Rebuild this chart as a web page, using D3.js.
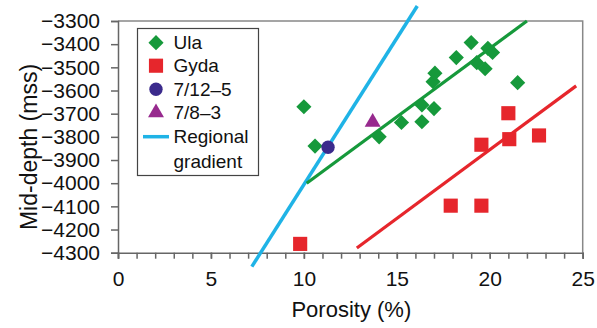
<!DOCTYPE html>
<html>
<head>
<meta charset="utf-8">
<script src="https://cdn.jsdelivr.net/npm/d3@7"></script>
<style>
  html, body { margin: 0; padding: 0; background: #fff; }
  svg { display: block; font-family: "Liberation Sans", Arial, Helvetica, sans-serif; }
</style>
</head>
<body>
<svg id="chart" width="597" height="328"></svg>
<script>
// ---------- data ----------
const ulaPorosity = [10.0, 10.6, 14.05, 15.25, 16.35, 16.35, 17.0, 16.95, 17.05, 18.2, 19.0, 19.3, 19.75, 19.9, 20.15, 21.5];
const ulaDepth    = [-3670, -3840, -3800, -3738, -3735, -3662, -3678, -3562, -3525, -3458, -3393, -3480, -3506, -3418, -3436, -3566];

const gydaPorosity = [9.8, 17.9, 19.55, 19.55, 21.0, 21.05, 22.65];
const gydaDepth    = [-4262, -4097, -4097, -3834, -3698, -3810, -3794];

const well7125Porosity = [11.3];
const well7125Depth    = [-3845];

const well783Porosity = [13.7];
const well783Depth    = [-3737];

const ulaTrendPorosity = [10.15, 22.0];
const ulaTrendDepth    = [-4000, -3300];
const gydaTrendPorosity = [12.85, 24.65];
const gydaTrendDepth    = [-4280, -3580];
const regionalPorosity = [7.2, 16.1];
const regionalDepth    = [-4360, -3235];

const xTickLabels = [0, 5, 10, 15, 20, 25];
const yTickLabels = [-3300, -3400, -3500, -3600, -3700, -3800, -3900, -4000, -4100, -4200, -4300];
const legendLabels = ["Ula", "Gyda", "7/12\u20135", "7/8\u20133", "Regional"];

// ---------- layout ----------
const svg = d3.select("#chart");
const pLeft = 118, pRight = 582.7, pTop = 21, pBottom = 252.7;
const x = d3.scaleLinear().domain([0, 25]).range([pLeft, pRight]);
const y = d3.scaleLinear().domain([-4300, -3300]).range([pBottom, pTop]);

const cGreen = "#16993b", cRed = "#e6262c", cIndigo = "#3b2a8c", cPurple = "#972a8e", cBlue = "#1fb3e6";
const axisColor = "#666";

// frame (top & right)
svg.append("path")
  .attr("d", `M${pLeft},${pTop}H${pRight}V${pBottom}`)
  .attr("fill", "none").attr("stroke", "#888").attr("stroke-width", 1.5);

// x axis minor ticks
const xMinor = svg.append("g").attr("transform", `translate(0,${pBottom})`)
  .call(d3.axisBottom(x).tickValues(d3.range(0, 26)).tickSize(6).tickFormat(""));
xMinor.selectAll("path, line").attr("stroke", axisColor).attr("stroke-width", 1.5);
// x axis labels
const xAx = svg.append("g").attr("transform", `translate(0,${pBottom})`)
  .call(d3.axisBottom(x).tickValues(xTickLabels).tickSize(6).tickPadding(12).tickFormat(d3.format("d")));
xAx.select(".domain").remove();
xAx.selectAll("line").attr("stroke", axisColor).attr("stroke-width", 1.5);
xAx.selectAll("text").attr("font-size", 21).attr("fill", "#111").attr("font-family", null);

// y axis
const yAx = svg.append("g").attr("transform", `translate(${pLeft},0)`)
  .call(d3.axisLeft(y).tickValues(yTickLabels).tickSize(7).tickPadding(11).tickFormat(d3.format("d")));
yAx.selectAll("path, line").attr("stroke", axisColor).attr("stroke-width", 1.5);
yAx.selectAll("text").attr("font-size", 21).attr("fill", "#111").attr("font-family", null);

// axis titles
svg.append("text").attr("x", (pLeft + pRight) / 2 + 1).attr("y", 317)
  .attr("text-anchor", "middle").attr("font-size", 22).attr("fill", "#111").text("Porosity (%)");
svg.append("text").attr("transform", `translate(37,${(57 + 237) / 2}) rotate(-90)`)
  .attr("text-anchor", "middle").attr("font-size", 23).attr("fill", "#111").text("Mid-depth (mss)");

// lines
const line = d3.line().x(d => x(d[0])).y(d => y(d[1]));
function drawLine(px, py, color, w) {
  svg.append("path").datum(px.map((v, i) => [v, py[i]]))
    .attr("d", line).attr("fill", "none").attr("stroke", color).attr("stroke-width", w);
}
drawLine(regionalPorosity, regionalDepth, cBlue, 3.5);
drawLine(ulaTrendPorosity, ulaTrendDepth, cGreen, 3.2);
drawLine(gydaTrendPorosity, gydaTrendDepth, cRed, 3.2);

// symbols
const diamond = d3.symbol().type(d3.symbolSquare).size(115)();
const square = d3.symbol().type(d3.symbolSquare).size(200)();
const circle = d3.symbol().type(d3.symbolCircle).size(140)();
const triangle = d3.symbol().type(d3.symbolTriangle).size(110)();

function drawPoints(px, py, path, color, rot) {
  svg.append("g").selectAll("path").data(px.map((v, i) => [v, py[i]])).join("path")
    .attr("d", path)
    .attr("transform", d => `translate(${x(d[0])},${y(d[1])}) rotate(${rot})`)
    .attr("fill", color);
}
drawPoints(ulaPorosity, ulaDepth, diamond, cGreen, 45);
drawPoints(gydaPorosity, gydaDepth, square, cRed, 0);
drawPoints(well7125Porosity, well7125Depth, circle, cIndigo, 0);
drawPoints(well783Porosity, well783Depth, triangle, cPurple, 0);

// legend
const lg = svg.append("g");
lg.append("rect").attr("x", 137.5).attr("y", 28.5).attr("width", 121).attr("height", 147)
  .attr("fill", "#fff").attr("stroke", "#444").attr("stroke-width", 1.2);
const legY = [42.7, 65.7, 89.3, 112.7, 136.7];
const legSym = [[diamond, cGreen, 45], [square, cRed, 0], [circle, cIndigo, 0], [triangle, cPurple, 0]];
legSym.forEach((s, i) => {
  lg.append("path").attr("d", s[0]).attr("fill", s[1])
    .attr("transform", `translate(156,${legY[i]}) rotate(${s[2]})`);
});
lg.append("line").attr("x1", 143).attr("x2", 169).attr("y1", legY[4]).attr("y2", legY[4])
  .attr("stroke", cBlue).attr("stroke-width", 3.5);
legendLabels.forEach((t, i) => {
  lg.append("text").attr("x", 173.5).attr("y", legY[i]).attr("dy", "0.35em")
    .attr("font-size", 19).attr("fill", "#111").text(t);
});
lg.append("text").attr("x", 173.5).attr("y", 161.7).attr("dy", "0.35em")
  .attr("font-size", 19).attr("fill", "#111").text("gradient");
</script>
</body>
</html>
